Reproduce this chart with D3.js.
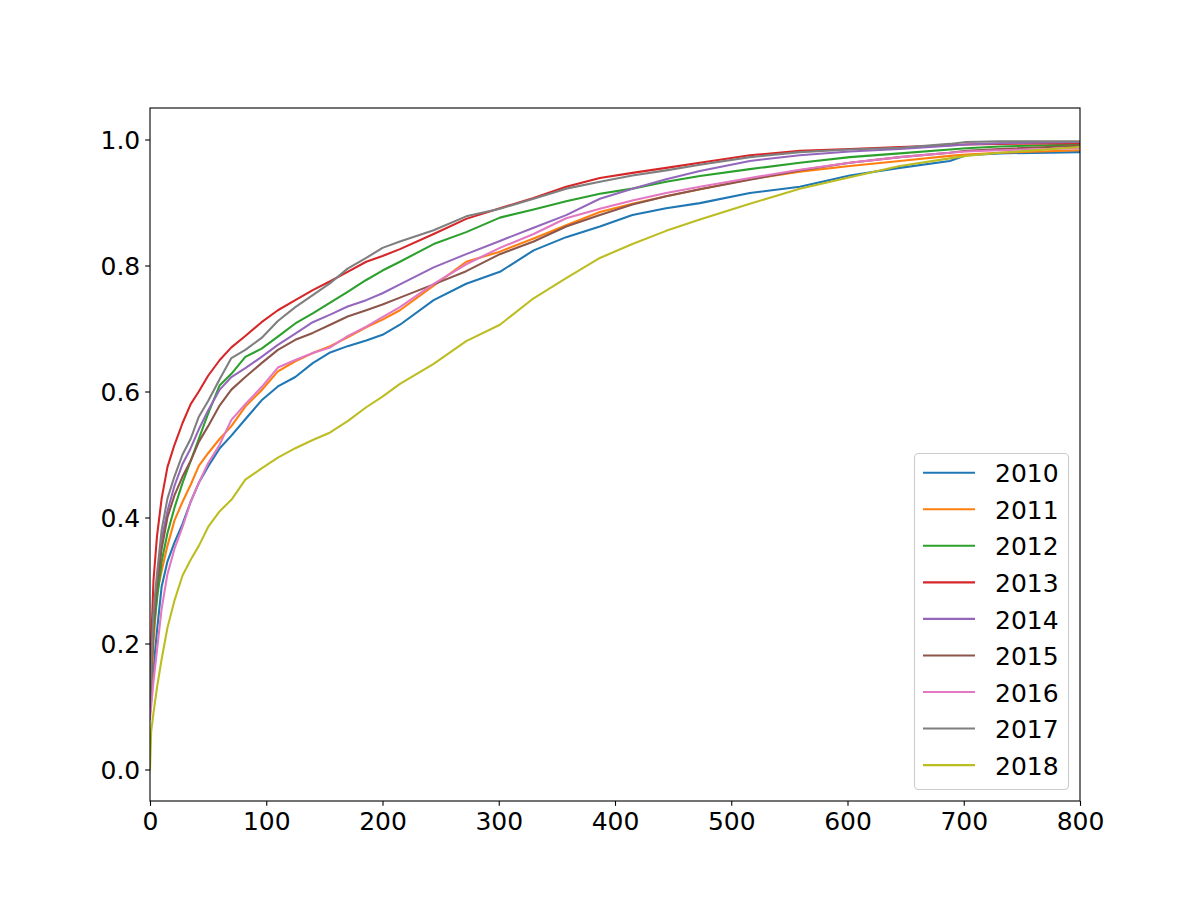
<!DOCTYPE html>
<html>
<head>
<meta charset="utf-8">
<script src="https://cdn.jsdelivr.net/npm/d3@7"></script>
<style>
  html, body { margin: 0; padding: 0; background: #fff; }
  svg { display: block; }
</style>
</head>
<body>
<svg id="chart" width="1200" height="900"></svg>
<script>
// ---------- data ----------
const xGrid = [0, 1, 3, 6, 10, 15, 21, 28, 35, 42, 50, 60, 70, 82, 96, 110, 125, 140, 155, 170, 186, 200, 215, 244, 272, 301, 330, 358, 387, 415, 444, 473, 516, 559, 602, 645, 688, 702, 731, 800];

const y2010 = [.09, .11, .16, .22, .29, .33, .36, .39, .425, .455, .481, .51, .53, .556, .586, .608, .623, .645, .662, .672, .681, .690, .706, .745, .771, .790, .824, .845, .862, .880, .891, .899, .915, .925, .943, .955, .966, .975, .978, .980];
const y2011 = [.09, .13, .20, .28, .315, .355, .395, .425, .452, .482, .502, .525, .545, .576, .602, .632, .648, .661, .672, .686, .702, .714, .729, .768, .806, .822, .843, .864, .885, .898, .910, .921, .937, .949, .958, .966, .974, .976, .979, .983];
const y2012 = [.10, .15, .22, .27, .33, .375, .415, .455, .49, .525, .565, .61, .628, .655, .668, .687, .708, .724, .741, .758, .777, .792, .806, .834, .853, .876, .889, .902, .914, .922, .933, .942, .953, .963, .972, .978, .984, .986, .989, .992];
const y2013 = [.12, .20, .30, .37, .43, .48, .515, .55, .58, .60, .625, .65, .67, .688, .71, .729, .745, .761, .775, .79, .806, .815, .826, .850, .874, .891, .907, .925, .939, .947, .955, .963, .975, .982, .985, .988, .991, .992, .993, .994];
const y2014 = [.10, .15, .24, .30, .365, .41, .45, .485, .51, .54, .57, .603, .623, .637, .655, .674, .692, .710, .722, .735, .745, .756, .770, .797, .818, .839, .860, .880, .906, .922, .937, .950, .966, .975, .981, .985, .990, .992, .994, .996];
const y2015 = [.09, .14, .23, .29, .35, .40, .435, .465, .49, .52, .545, .578, .603, .623, .645, .666, .682, .693, .706, .719, .729, .738, .749, .770, .791, .818, .838, .862, .880, .897, .910, .921, .936, .951, .963, .972, .979, .982, .985, .990];
const y2016 = [.08, .10, .14, .19, .255, .31, .35, .385, .425, .455, .486, .516, .555, .58, .607, .638, .650, .661, .670, .688, .703, .718, .734, .771, .802, .828, .850, .875, .890, .903, .915, .925, .939, .952, .963, .972, .979, .981, .983, .986];
const y2017 = [.10, .16, .25, .31, .38, .43, .465, .50, .525, .56, .585, .62, .653, .666, .685, .712, .734, .753, .772, .795, .812, .828, .838, .856, .878, .890, .906, .922, .933, .943, .951, .960, .972, .980, .984, .987, .993, .996, .997, .997];
const y2018 = [0, .06, .09, .13, .175, .225, .268, .308, .333, .355, .385, .41, .428, .46, .478, .495, .51, .523, .535, .553, .575, .592, .612, .644, .680, .706, .748, .780, .812, .834, .855, .873, .898, .922, .940, .958, .970, .974, .979, .988];

const years = ["2010", "2011", "2012", "2013", "2014", "2015", "2016", "2017", "2018"];
const seriesValues = [y2010, y2011, y2012, y2013, y2014, y2015, y2016, y2017, y2018];
const colors = ["#1f77b4", "#ff7f0e", "#2ca02c", "#d62728", "#9467bd", "#8c564b", "#e377c2", "#7f7f7f", "#bcbd22"];

const xTicks = [0, 100, 200, 300, 400, 500, 600, 700, 800];
const yTicks = [0.0, 0.2, 0.4, 0.6, 0.8, 1.0];

// ---------- layout ----------
const plotL = 150, plotR = 1080, plotT = 108, plotB = 801;
const font = "'DejaVu Sans', sans-serif";
const fs = 25;

const svg = d3.select("#chart");
const xs = d3.scaleLinear().domain([0, 800]).range([plotL, plotR]);
const ys = d3.scaleLinear().domain([-0.05, 1.05]).range([plotB, plotT]);

svg.append("defs").append("clipPath").attr("id", "clip")
  .append("rect").attr("x", plotL).attr("y", plotT)
  .attr("width", plotR - plotL).attr("height", plotB - plotT);

// lines
const line = d3.line().x((d, i) => xs(xGrid[i])).y(d => ys(d)).curve(d3.curveLinear);
const g = svg.append("g").attr("clip-path", "url(#clip)");
seriesValues.forEach((vals, k) => {
  g.append("path")
    .attr("d", line(vals))
    .attr("fill", "none")
    .attr("stroke", colors[k])
    .attr("stroke-width", 2.08)
    .attr("stroke-linejoin", "round")
    .attr("stroke-linecap", "square");
});

// axes
const tl = 4.86, tp = 4.86;
const xAxis = svg.append("g").attr("transform", `translate(0,${plotB})`)
  .call(d3.axisBottom(xs).tickValues(xTicks).tickSize(tl).tickPadding(tp).tickFormat(d3.format("d")));
const yAxis = svg.append("g").attr("transform", `translate(${plotL},0)`)
  .call(d3.axisLeft(ys).tickValues(yTicks).tickSize(tl).tickPadding(tp).tickFormat(d3.format(".1f")));
[xAxis, yAxis].forEach(a => {
  a.select(".domain").remove();
  a.selectAll(".tick line").attr("stroke", "#000").attr("stroke-width", 1.1);
  a.selectAll(".tick text").attr("fill", "#000").style("font-family", font).style("font-size", fs + "px");
});
xAxis.selectAll(".tick text").attr("dy", "0.76em");
yAxis.selectAll(".tick text").attr("dy", "0.37em");

// spines
svg.append("rect").attr("x", plotL).attr("y", plotT)
  .attr("width", plotR - plotL).attr("height", plotB - plotT)
  .attr("fill", "none").attr("stroke", "#000").attr("stroke-width", 1.1);

// legend
const lg = svg.append("g");
lg.append("rect").attr("x", 914.5).attr("y", 453.5).attr("width", 154).attr("height", 336)
  .attr("rx", 4).attr("ry", 4)
  .attr("fill", "#fff").attr("fill-opacity", 0.8)
  .attr("stroke", "#cccccc").attr("stroke-width", 1.1);
years.forEach((yr, k) => {
  const cy = 472.7 + k * 36.55;
  lg.append("line").attr("x1", 923).attr("x2", 975).attr("y1", cy).attr("y2", cy)
    .attr("stroke", colors[k]).attr("stroke-width", 2.08);
  lg.append("text").attr("x", 995).attr("y", cy + 9.6)
    .attr("fill", "#000").style("font-family", font).style("font-size", fs + "px")
    .text(yr);
});
</script>
</body>
</html>
